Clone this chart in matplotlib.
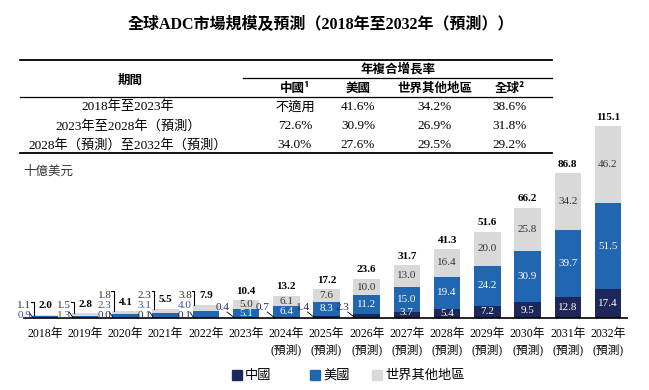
import matplotlib
matplotlib.use('Agg')
import matplotlib.pyplot as plt
from matplotlib.lines import Line2D

plt.rcParams['font.family'] = ['Liberation Serif', 'Noto Sans CJK TC']

# data
years = ['2018年', '2019年', '2020年', '2021年', '2022年', '2023年', '2024年', '2025年',
         '2026年', '2027年', '2028年', '2029年', '2030年', '2031年', '2032年']
forecast_from = 6
china = [0.0, 0.0, 0.0, 0.1, 0.1, 0.4, 0.7, 1.4, 2.3, 3.7, 5.4, 7.2, 9.5, 12.8, 17.4]
usa = [0.9, 1.3, 2.3, 3.1, 4.0, 5.1, 6.4, 8.3, 11.2, 15.0, 19.4, 24.2, 30.9, 39.7, 51.5]
rest = [1.1, 1.5, 1.8, 2.3, 3.8, 5.0, 6.1, 7.6, 10.0, 13.0, 16.4, 20.0, 25.8, 34.2, 46.2]
total = [2.0, 2.8, 4.1, 5.5, 7.9, 10.4, 13.2, 17.2, 23.6, 31.7, 41.3, 51.6, 66.2, 86.8, 115.1]

series_names = ['中國', '美國', '世界其他地區']
periods = ['2018年至2023年', '2023年至2028年（預測）', '2028年（預測）至2032年（預測）']
cagr_cols = ['中國¹', '美國', '世界其他地區', '全球²']
cagr_vals = [['不適用', '41.6%', '34.2%', '38.6%'],
             ['72.6%', '30.9%', '26.9%', '31.8%'],
             ['34.0%', '27.6%', '29.5%', '29.2%']]

c_china = '#1e2759'
c_usa = '#2166b0'
c_rest = '#d9d9d9'
W, H = 649, 390

fig = plt.figure(figsize=(W / 100, H / 100), dpi=100)


def fx(px):
    return px / W


def fy(py):
    return 1 - py / H


def hline(x0, x1, y, lw=1.0):
    fig.add_artist(Line2D([fx(x0), fx(x1)], [fy(y), fy(y)], transform=fig.transFigure,
                          color='black', lw=lw))


# title + table
fig.text(fx(321), fy(25), '全球ADC市場規模及預測（2018年至2032年（預測））',
         ha='center', va='center', fontsize=11.5, fontweight='bold')
hline(20, 552, 59.5, 1.3)
hline(243, 552, 78, 0.9)
hline(20, 552, 97, 0.9)
hline(20, 552, 153, 1.3)
sans = ['Noto Sans CJK TC', 'DejaVu Sans']
fig.text(fx(130), fy(80), '期間', ha='center', va='center', fontsize=9,
         family=sans, fontweight='bold')
fig.text(fx(398), fy(69.5), '年複合增長率', ha='center', va='center', fontsize=9,
         family=sans, fontweight='bold')
col_x = [295, 358, 435, 510]
for cx, name in zip(col_x, cagr_cols):
    fig.text(fx(cx), fy(88.5), name, ha='center', va='center', fontsize=9,
             family=sans, fontweight='bold')
row_y = [107, 126, 145]
for ry, period, vals in zip(row_y, periods, cagr_vals):
    fig.text(fx(128), fy(ry), period, ha='center', va='center', fontsize=9.5)
    for cx, v in zip(col_x, vals):
        fig.text(fx(cx), fy(ry), v, ha='center', va='center', fontsize=9.5)

fig.text(fx(23), fy(171), '十億美元', ha='left', va='center', fontsize=9,
         color='#333333', family=sans, fontstyle='italic')

# chart
ax = fig.add_axes([fx(24), (H - 318) / H, 603 / W, 198 / H])
ux = 40.21  # px per x unit
uy = 1.668  # px per y unit
ax.set_xlim(-21 / ux, 14 + 19 / ux)
ax.set_ylim(0, 198 / uy)
x = list(range(len(years)))
bw = 0.66
china_usa = [a + b for a, b in zip(china, usa)]
ax.bar(x, china, bw, color=c_china, label=series_names[0])
ax.bar(x, usa, bw, bottom=china, color=c_usa, label=series_names[1])
ax.bar(x, rest, bw, bottom=china_usa, color=c_rest, label=series_names[2])

for s in ['top', 'left', 'right']:
    ax.spines[s].set_visible(False)
ax.spines['bottom'].set_linewidth(1.2)
ax.set_yticks([])
ticklabels = [y if i < forecast_from else y + '\n(預測)' for i, y in enumerate(years)]
ax.set_xticks(x, ticklabels)
ax.tick_params(axis='x', length=0, pad=7, labelsize=8.5)
for t in ax.get_xticklabels():
    t.set_linespacing(1.45)

fs = 8
lab_small_usa = '#3b4fa3'
lab_small_cn = '#2b2b5e'
for i in x:
    ax.text(i, total[i] + 9 / uy, f'{total[i]:.1f}', ha='center', va='center',
            fontsize=fs, fontweight='bold')
    if i < 5:
        labs = [(rest[i], '#333333'), (usa[i], lab_small_usa)]
        if i >= 2:
            labs.append((china[i], lab_small_cn))
        n = len(labs)
        for k, (v, col) in enumerate(labs):
            yc = 2 + 10.5 * (n - 1 - k)
            ax.text(i - 14 / ux, yc / uy, f'{v:.1f}', ha='right', va='center',
                    fontsize=fs, color=col)
        ytop = (2 + 10.5 * (n - 1) + 4) / uy
        ax.plot([i - 14 / ux, i - 11.5 / ux, i - 11.5 / ux],
                [ytop, ytop, total[i]], color='black', lw=0.8, clip_on=False)
        ax.plot([i - 16 / ux, i - 12 / ux], [6 / uy, 0], color='black', lw=0.6,
                clip_on=False)
    else:
        ax.text(i, china_usa[i] + rest[i] / 2, f'{rest[i]:.1f}', ha='center',
                va='center', fontsize=fs, color='#333333')
        ax.text(i, china[i] + usa[i] / 2, f'{usa[i]:.1f}', ha='center',
                va='center', fontsize=fs, color='white')
        if i >= 9:
            ax.text(i, china[i] / 2 + (1.5 if i == 9 else 0), f'{china[i]:.1f}',
                    ha='center', va='center', fontsize=fs, color='white')
        else:
            ax.text(i - 17 / ux, 11 / uy, f'{china[i]:.1f}', ha='right', va='center',
                    fontsize=fs, color=lab_small_cn)
            ax.plot([i - 19 / ux, i - 12 / ux], [6 / uy, 0.3], color='black', lw=0.6,
                    clip_on=False)

# legend
leg_x = [232, 310, 372]
leg_cols = [c_china, c_usa, c_rest]
for lx, name, col in zip(leg_x, series_names, leg_cols):
    fig.patches.append(plt.Rectangle((fx(lx), fy(380)), 10 / W, 10 / H, color=col,
                                     transform=fig.transFigure, figure=fig))
    fig.text(fx(lx + 13), fy(375), name, ha='left', va='center', fontsize=9.5,
             family=sans)

fig.savefig('out.png', dpi=100)
